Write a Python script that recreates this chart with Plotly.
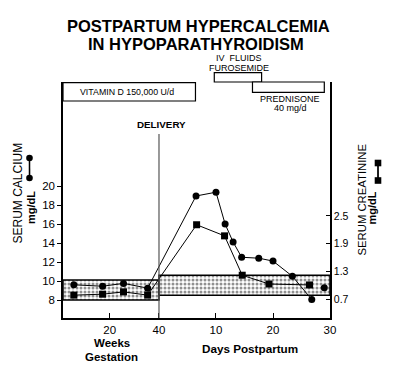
import plotly.graph_objects as go

# ---------------- data ----------------
gest_weeks = [5.4, 17.1, 25.6, 35.4]          # weeks of gestation
gest_calcium = [9.6, 9.45, 9.75, 9.25]        # mg/dL
gest_creatinine = [0.79, 0.81, 0.86, 0.79]    # mg/dL

pp_days_ca = [6.5, 10.0, 11.6, 13.0, 14.5, 17.5, 20.0, 23.4, 26.8]
pp_calcium = [18.95, 19.35, 16.0, 14.1, 12.5, 12.4, 12.1, 10.5, 8.05]
extra_day_ca = [29.0]
extra_calcium = [9.3]

pp_days_cr = [6.6, 11.5, 14.6, 19.3, 26.4]
pp_creatinine = [2.31, 2.07, 1.22, 1.03, 1.01]

normal_ca_gest = [8.0, 10.1]
normal_ca_pp = [8.5, 10.6]

treat_names = ["VITAMIN D 150,000 U/d", "IV FLUIDS / FUROSEMIDE", "PREDNISONE 40 mg/d"]
treat_start = [None, 9.7, 16.4]   # days postpartum (None = before chart start)
treat_end = [6.4, 18.0, 29.0]

x_week_ticks = [20, 40]
x_day_ticks = [10, 20, 30]
ca_ticks = [8, 10, 12, 14, 16, 18, 20]
cr_ticks = [0.7, 1.3, 1.9, 2.5]

# ---------------- broken time scale ----------------
WEEK_SCALE = 0.432  # axis units (days) per gestation week, compressed section
def gest_t(w):
    return (w - 40) * WEEK_SCALE

X_MIN, X_MAX = -16.84, 30.0

# pixel layout helpers
W, H = 397, 376
L, R, T, B = 63, 330, 82, 318
def px(x):
    return (x - L) / (R - L)
def py(y):
    return (B - y) / (B - T)

FONT = "Liberation Sans, Arial, Helvetica, sans-serif"

fig = go.Figure()

# normal-range bands
for (x0, x1), (lo, hi) in [((X_MIN, 0), normal_ca_gest), ((0, X_MAX), normal_ca_pp)]:
    fig.add_trace(go.Scatter(
        x=[x0, x1, x1, x0, x0], y=[lo, lo, hi, hi, lo],
        mode="lines", fill="toself",
        line=dict(color="black", width=1.5),
        fillcolor="white",
        fillpattern=dict(shape=".", fgcolor="#222", bgcolor="white", size=4, solidity=0.45),
        hoverinfo="skip", showlegend=False))

# calcium series
ca_x = [gest_t(w) for w in gest_weeks] + pp_days_ca
ca_y = gest_calcium + pp_calcium
fig.add_trace(go.Scatter(
    x=ca_x, y=ca_y, mode="lines+markers",
    line=dict(color="black", width=1),
    marker=dict(symbol="circle", size=7, color="black"),
    showlegend=False))
fig.add_trace(go.Scatter(
    x=extra_day_ca, y=extra_calcium, mode="markers",
    marker=dict(symbol="circle", size=7, color="black"),
    showlegend=False))

# creatinine series
cr_x = [gest_t(w) for w in gest_weeks] + pp_days_cr
cr_y = gest_creatinine + pp_creatinine
fig.add_trace(go.Scatter(
    x=cr_x, y=cr_y, mode="lines+markers", yaxis="y2",
    line=dict(color="black", width=1),
    marker=dict(symbol="square", size=7, color="black"),
    showlegend=False))

shapes = []
# delivery line
shapes.append(dict(type="line", xref="x", yref="paper", x0=0, x1=0, y0=0, y1=py(134),
                   line=dict(color="#555", width=1.2)))
# treatment boxes
box_rows = [(py(82.7), py(101)), (py(72.7), py(82)), (py(82), py(92.3))]
for s, e, (y1, y0) in zip(treat_start, treat_end, box_rows):
    shapes.append(dict(type="rect", xref="x", yref="paper",
                       x0=X_MIN if s is None else s, x1=e, y0=y0, y1=y1,
                       line=dict(color="black", width=1.2), fillcolor="white"))
# legend glyphs next to axis titles
def glyph(kind, xp, yp):
    return dict(type="circle" if kind == "c" else "rect", xref="paper", yref="paper",
                xsizemode="pixel", ysizemode="pixel", xanchor=px(xp), yanchor=py(yp),
                x0=-3.3, x1=3.3, y0=-3.3, y1=3.3, fillcolor="black",
                line=dict(color="black", width=0))
def seg(xp, ya, yb):
    return dict(type="line", xref="paper", yref="paper",
                x0=px(xp), x1=px(xp) + 1e-4, y0=py(ya), y1=py(yb),
                line=dict(color="black", width=1.3))
shapes.append(seg(29.5, 158, 178))
shapes.append(seg(378, 163, 180.5))
shapes.append(glyph("c", 29.5, 158))
shapes.append(glyph("c", 29.5, 178))
shapes.append(glyph("s", 378, 163))
shapes.append(glyph("s", 378, 180.5))

ann = []
def text(t, x, y, size, bold=False, angle=0):
    ann.append(dict(text=f"<b>{t}</b>" if bold else t, xref="paper", yref="paper",
                    x=px(x), y=py(y), xanchor="center", yanchor="middle",
                    showarrow=False, textangle=angle,
                    font=dict(family=FONT, size=size, color="black")))
def connector(xp, ya, yb):
    ann.append(dict(text=" ", xref="paper", yref="paper", x=px(xp), y=py(ya),
                    ax=0, ay=yb - ya, showarrow=True, arrowhead=0,
                    arrowwidth=1.3, arrowcolor="black", standoff=0, startstandoff=0,
                    font=dict(size=1)))

connector(29.5, 158, 178)
connector(378, 163, 180.5)

text("POSTPARTUM HYPERCALCEMIA", 198, 25.5, 16.5, bold=True)
text("IN HYPOPARATHYROIDISM", 196, 44, 16.5, bold=True)
text("IV  FLUIDS", 238.5, 58.5, 9)
text("FUROSEMIDE", 239, 68, 9)
text("VITAMIN D 150,000 U/d", 126.7, 92.3, 8.8)
text("PREDNISONE", 289.7, 99, 9)
text("40 mg/d", 290, 107.5, 9)
text("DELIVERY", 161.7, 124, 9.8, bold=True)
text("Weeks", 111.7, 343, 11.5, bold=True)
text("Gestation", 111.7, 356.5, 11.5, bold=True)
text("Days Postpartum", 250, 348, 11.7, bold=True)
text("SERUM CALCIUM", 17, 193.5, 12, angle=-90)
text("mg/dL", 31, 208, 11, bold=True, angle=-90)
text("SERUM CREATININE", 361.5, 200, 11.3, angle=-90)
text("mg/dL", 371.5, 208, 11, bold=True, angle=-90)

fig.update_layout(
    width=W, height=H,
    margin=dict(l=L, r=W - R, t=T, b=H - B, pad=0),
    paper_bgcolor="white", plot_bgcolor="white",
    font=dict(family=FONT, color="black"),
    shapes=shapes, annotations=ann,
    xaxis=dict(range=[X_MIN, X_MAX], showgrid=False, zeroline=False,
               showline=True, linecolor="black", linewidth=1.5,
               tickvals=[gest_t(w) for w in x_week_ticks] + x_day_ticks,
               ticktext=[str(w) for w in x_week_ticks] + [str(d) for d in x_day_ticks],
               ticks="inside", ticklen=5, tickwidth=1.3, tickcolor="black",
               ticklabelstandoff=0,
               tickfont=dict(family=FONT, size=11.5, color="black")),
    yaxis=dict(range=[6.105, 30.95], showgrid=False, zeroline=False,
               showline=True, linecolor="black", linewidth=1.5,
               tickvals=ca_ticks, ticks="outside", ticklen=4, tickwidth=1.2,
               tickcolor="black",
               tickfont=dict(family=FONT, size=11.5, color="black")),
    yaxis2=dict(range=[0.296, 5.393], overlaying="y", side="right",
                showgrid=False, zeroline=False,
                showline=True, linecolor="black", linewidth=1.5,
                tickvals=cr_ticks, ticktext=[f"{v:.1f}" for v in cr_ticks],
                ticks="inside", ticklen=4, tickwidth=1.2, tickcolor="black",
                tickfont=dict(family=FONT, size=10.5, color="black")),
)

fig.write_html("out.html", config={"displayModeBar": False},
               post_script="document.body.style.margin='0';")
